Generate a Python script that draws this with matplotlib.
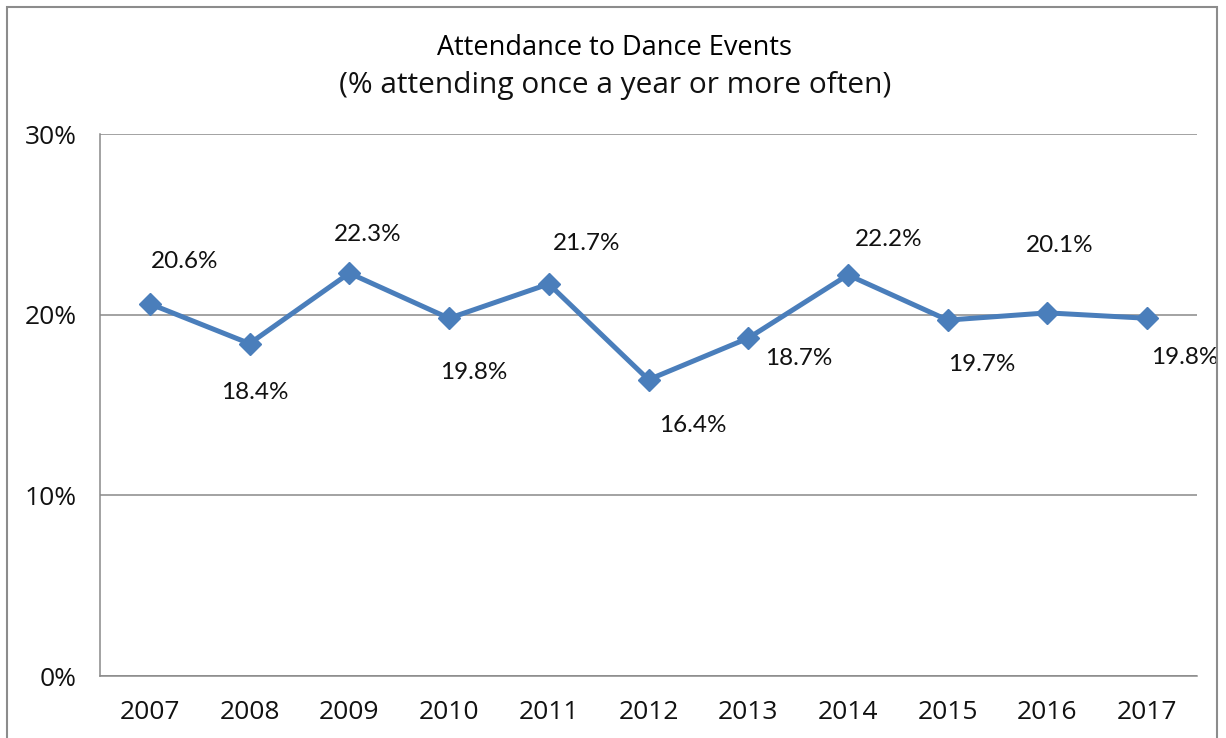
import matplotlib
matplotlib.use('Agg')
import matplotlib.pyplot as plt
from matplotlib.patches import Rectangle

years = ['2007', '2008', '2009', '2010', '2011', '2012', '2013', '2014', '2015', '2016', '2017']
attendance = [20.6, 18.4, 22.3, 19.8, 21.7, 16.4, 18.7, 22.2, 19.7, 20.1, 19.8]
y_ticks = [0, 10, 20, 30]

# label offsets in pixels (dx, dy) from each point
label_offsets = [(35, 42), (5, -49), (18, 39), (25, -54), (38, 40), (44, -46),
                 (51, -20), (41, 35), (34, -44), (12, 67), (38, -39)]

grid_col = '#898989'
line_col = '#4A7EBB'

fig = plt.figure(figsize=(12.26, 7.38), dpi=100)
ax = fig.add_axes([100 / 1226, 62 / 738, 1097 / 1226, 542 / 738])

x = list(range(len(years)))
ax.plot(x, attendance, color=line_col, lw=3.6, marker='D', ms=11,
        markerfacecolor=line_col, markeredgecolor=line_col, zorder=3)

for xi, v, (dx, dy) in zip(x, attendance, label_offsets):
    ax.annotate(f'{v:.1f}%', (xi, v), xytext=(dx * 0.72, dy * 0.72),
                textcoords='offset points', ha='center', va='center',
                fontsize=17.5, family='Lato', color='#111111')

ax.set_xlim(-0.5, len(years) - 0.5)
ax.set_ylim(0, 30)
ax.set_yticks(y_ticks)
ax.set_yticklabels([f'{t}%' for t in y_ticks])
ax.set_xticks(x)
ax.set_xticklabels(years)
ax.tick_params(axis='both', length=0, labelsize=19, labelcolor='#111111')
ax.tick_params(axis='y', pad=17)
ax.tick_params(axis='x', pad=17)
for lab in ax.get_xticklabels() + ax.get_yticklabels():
    lab.set_family('Open Sans')

ax.grid(axis='y', color=grid_col, lw=1.1)
ax.set_axisbelow(True)
for spine in ('top', 'right'):
    ax.spines[spine].set_visible(False)
for spine in ('left', 'bottom'):
    ax.spines[spine].set_color(grid_col)
    ax.spines[spine].set_linewidth(1.1)

fig.text(0.5015, 0.935, 'Attendance to Dance Events', ha='center', va='center',
         fontsize=19.5, family='Open Sans', color='#000000')
fig.text(0.5015, 0.884, '(% attending once a year or more often)', ha='center',
         va='center', fontsize=21.5, family='Open Sans', color='#111111')

fig.patches.append(Rectangle((7 / 1226, -0.1), 1210 / 1226, 1.1 - 7 / 738,
                             transform=fig.transFigure, fill=False,
                             edgecolor='#8c8c8c', lw=1.5))

fig.savefig('out.png', dpi=100)
